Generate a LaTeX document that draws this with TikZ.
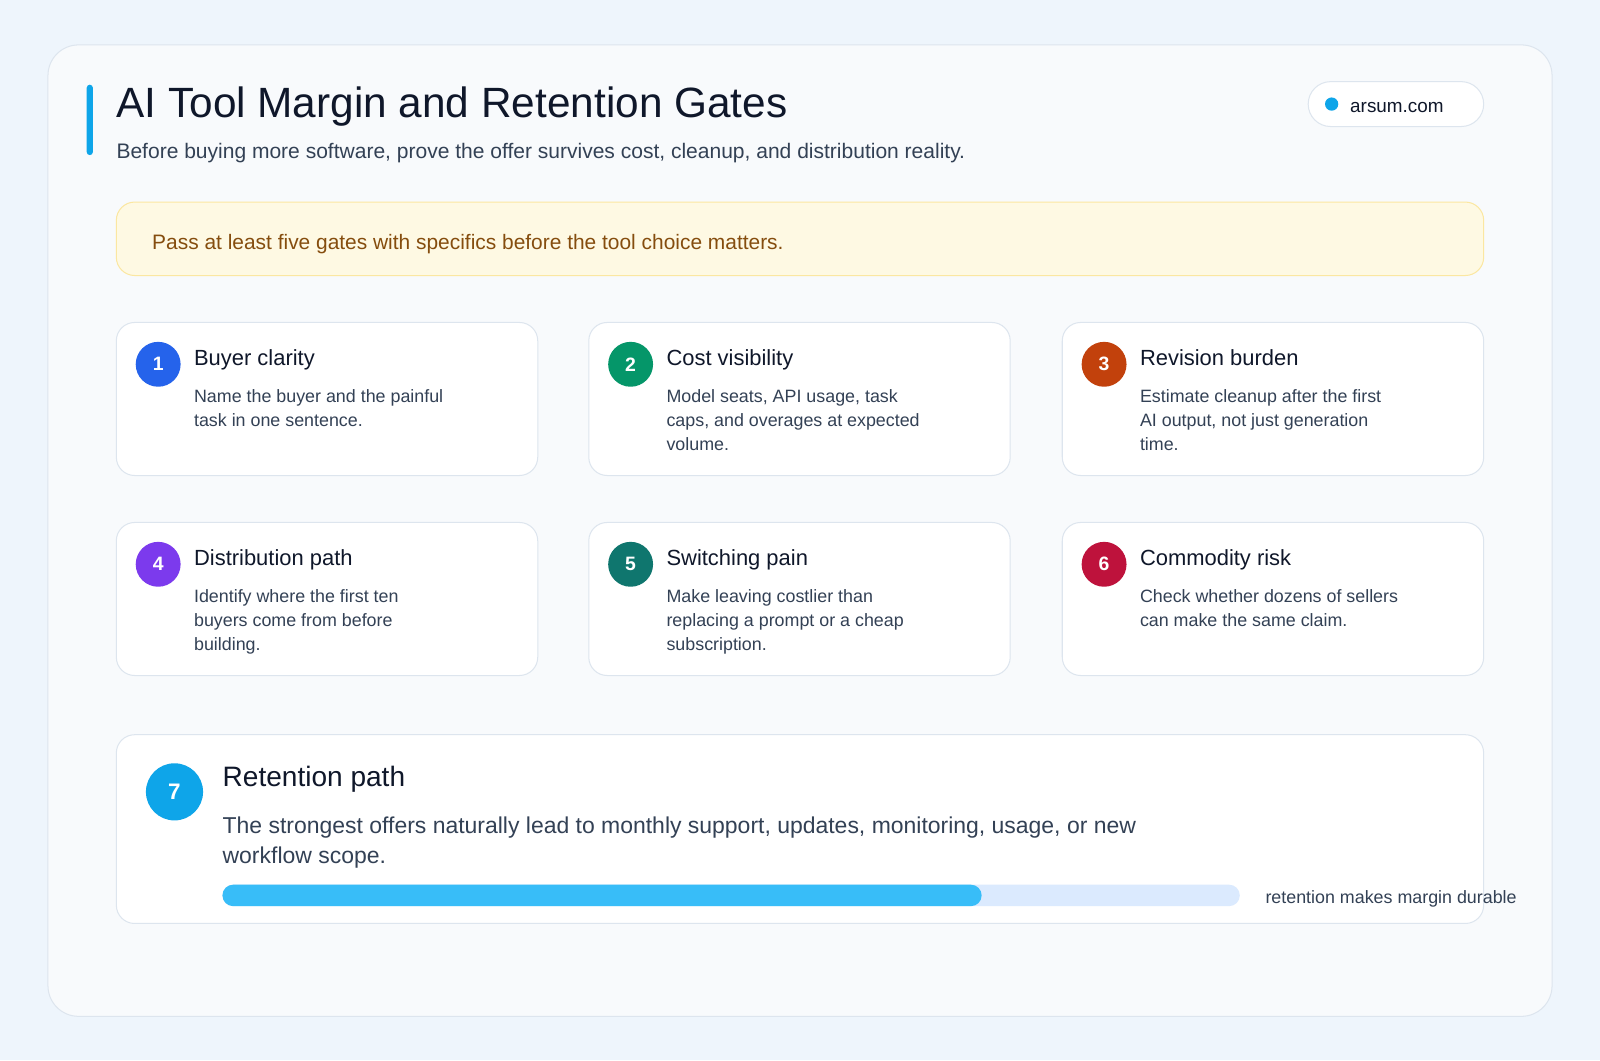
\documentclass[tikz,border=0pt]{standalone}
\usepackage{fontspec}
\setmainfont{Liberation Sans}
\definecolor{pagebg}{HTML}{EEF5FC}
\definecolor{cardbg}{HTML}{F8FAFC}
\definecolor{edge}{HTML}{DDE5EE}
\definecolor{ink}{HTML}{0F172A}
\definecolor{body}{HTML}{334155}
\definecolor{accent}{HTML}{0EA5E9}
\definecolor{bannerbg}{HTML}{FEF9E3}
\definecolor{banneredge}{HTML}{FBE7A1}
\definecolor{bannerink}{HTML}{854D0E}
\definecolor{cA}{HTML}{2563EB}
\definecolor{cB}{HTML}{059669}
\definecolor{cC}{HTML}{C2410C}
\definecolor{cD}{HTML}{7C3AED}
\definecolor{cE}{HTML}{0F766E}
\definecolor{cF}{HTML}{BE123C}
\definecolor{trackbg}{HTML}{DBEAFE}
\definecolor{trackfill}{HTML}{38BDF8}
\tikzset{gatecard/.style={draw=edge,fill=white,rounded corners=18pt,line width=1pt}}
\tikzset{badge/.style={circle,inner sep=0pt,text=white}}
\begin{document}
\begin{tikzpicture}[x=1pt,y=-1pt]
	\useasboundingbox (0,0) rectangle (1568,1039);
	\fill [pagebg] (0,0) rectangle (1568,1039);
	% outer panel
	\draw [draw=edge,fill=cardbg,rounded corners=30pt,line width=1pt] (47,44) rectangle (1521,996);
	\fill [accent,rounded corners=3pt] (85,83) rectangle (91,152);
	\node [anchor=base west,inner sep=0pt,text=ink,font=\fontsize{41.5}{48}\selectfont] (title) at (114,115) {AI Tool Margin and Retention Gates};
	\node [anchor=base west,inner sep=0pt,text=body,font=\fontsize{20.6}{24}\selectfont] (subtitle) at (114,155) {Before buying more software, prove the offer survives cost, cleanup, and distribution reality.};
	% site pill
	\draw [draw=edge,fill=white,rounded corners=22pt,line width=1pt] (1282,80) rectangle (1454,124);
	\fill [accent] (1305,102) circle [radius=6.5];
	\node [anchor=west,inner sep=0pt,text=ink,font=\fontsize{18.5}{22}\selectfont] (site) at (1323,105) {arsum.com};
	% banner
	\draw [draw=banneredge,fill=bannerbg,rounded corners=18pt,line width=1pt] (114,198) rectangle (1454,270);
	\node [anchor=west,inner sep=0pt,text=bannerink,font=\fontsize{20.5}{24}\selectfont] (banner) at (149,239) {Pass at least five gates with specifics before the tool choice matters.};
	% gate cards
	\foreach \n/\x/\y/\col/\head/\desc in {
		1/114/316/cA/Buyer clarity/{Name the buyer and the painful\\task in one sentence.},
		2/577/316/cB/Cost visibility/{Model seats, API usage, task\\caps, and overages at expected\\volume.},
		3/1041/316/cC/Revision burden/{Estimate cleanup after the first\\AI output, not just generation\\time.},
		4/114/512/cD/Distribution path/{Identify where the first ten\\buyers come from before\\building.},
		5/577/512/cE/Switching pain/{Make leaving costlier than\\replacing a prompt or a cheap\\subscription.},
		6/1041/512/cF/Commodity risk/{Check whether dozens of sellers\\can make the same claim.}} {
		\draw [gatecard] (\x,\y) rectangle ++(413,150);
		\node [badge,fill=\col,minimum size=44pt,font=\fontsize{19}{22}\selectfont\bfseries] (gate\n) at ([shift={(41,41)}]\x,\y) {\n};
		\node [anchor=base west,inner sep=0pt,text=ink,font=\fontsize{21.5}{26}\selectfont] (head\n) at ([shift={(76,42)}]\x,\y) {\head};
		\node [anchor=north west,inner sep=0pt,align=left,text=body,font=\fontsize{17.5}{23.5}\selectfont] (desc\n) at ([shift={(76,66)}]\x,\y) {\desc};
	}
	% retention card
	\draw [gatecard] (114,720) rectangle (1454,905);
	\node [badge,fill=accent,minimum size=56pt,font=\fontsize{22}{26}\selectfont\bfseries] (gate7) at (171,776) {7};
	\node [anchor=base west,inner sep=0pt,text=ink,font=\fontsize{27.5}{32}\selectfont] (head7) at (218,771) {Retention path};
	\node [anchor=north west,inner sep=0pt,align=left,text=body,font=\fontsize{22.5}{29.5}\selectfont] (desc7) at (218,800) {The strongest offers naturally lead to monthly support, updates, monitoring, usage, or new\\workflow scope.};
	\fill [trackbg,rounded corners=10.5pt] (218,867) rectangle (1215,888);
	\fill [trackfill,rounded corners=10.5pt] (218,867) rectangle (962,888);
	\node [anchor=west,inner sep=0pt,text=body,font=\fontsize{17.5}{20}\selectfont] (tracklabel) at (1240,881) {retention makes margin durable};
\end{tikzpicture}
\end{document}
